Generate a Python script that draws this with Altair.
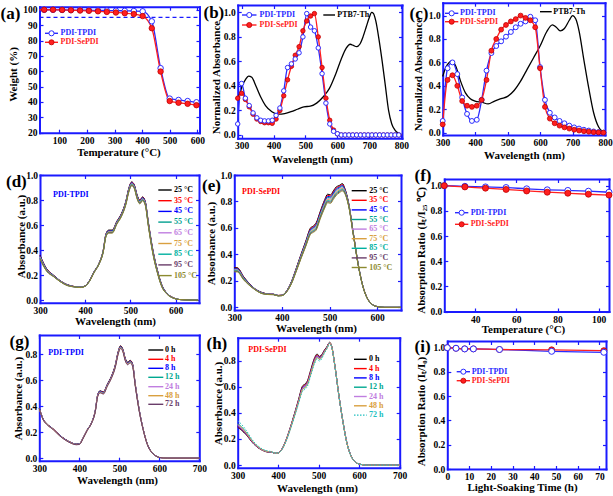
import altair as alt
import pandas as pd

W, H = 613, 496
FONT = "Liberation Serif"
FRAME = "#1a1aff"
TP_BLUE = "#2b2bff"
SE_RED = "#ff1f1f"
LS = 9.5
TS = 11

# ---------------- data ----------------
# (a) TGA
A_TEMP = [45, 77, 110, 142, 175, 207, 240, 272, 305, 337, 370, 402, 435, 467, 500, 532, 565, 597]
A_TPDI = [100.0, 100.0, 99.9, 99.8, 99.8, 99.7, 99.6, 99.5, 99.4, 99.3, 99.2, 99.0, 92.5, 62.0, 42.2, 41.3, 40.6, 39.8]
A_SEPDI = [100.0, 100.0, 99.9, 99.7, 99.5, 99.3, 99.0, 98.6, 98.2, 97.8, 97.2, 95.9, 88.0, 59.8, 40.6, 39.5, 38.8, 37.9]
A_START = 28
A_THRESH = 95

# (b) solution absorbance
B_WL = [288, 300, 312, 324, 336, 348, 360, 372, 384, 396, 408, 420, 432, 444, 456, 468, 480, 492, 504, 516,
        528, 540, 552, 564, 576, 588, 600, 612, 624, 636, 648, 660, 672, 684, 696, 708, 720, 732, 744, 756,
        768, 780, 792]
B_TPDI = [0.09, 0.42, 0.30, 0.24, 0.18, 0.14, 0.12, 0.115, 0.115, 0.12, 0.16, 0.22, 0.36, 0.55, 0.58, 0.62,
          0.67, 0.80, 0.99, 0.88, 0.85, 0.71, 0.50, 0.26, 0.09, 0.03, 0.01, 0.0, 0.0, 0.0, 0.0, 0.0, 0.0, 0.0,
          0.0, 0.0, 0.0, 0.0, 0.0, 0.0, 0.0, 0.0, 0.0]
B_SEPDI = [0.30, 0.34, 0.29, 0.23, 0.17, 0.13, 0.11, 0.10, 0.10, 0.095, 0.13, 0.20, 0.32, 0.45, 0.56, 0.65,
           0.72, 0.85, 0.93, 0.97, 0.99, 0.80, 0.55, 0.30, 0.12, 0.04, 0.01, 0.0, 0.0, 0.0, 0.0, 0.0, 0.0, 0.0,
           0.0, 0.0, 0.0, 0.0, 0.0, 0.0, 0.0, 0.0, 0.0]
B_PTB_WL = [288, 295, 302, 312, 322, 332, 345, 360, 375, 395, 415, 435, 455, 475, 495, 515, 535, 555, 575,
            595, 612, 628, 640, 650, 660, 670, 680, 690, 700, 707, 713, 720, 730, 740, 750, 760, 770, 780, 790, 800]
B_PTB = [0.30, 0.34, 0.40, 0.45, 0.48, 0.47, 0.40, 0.31, 0.24, 0.19, 0.17, 0.175, 0.19, 0.21, 0.23, 0.235,
         0.26, 0.31, 0.38, 0.50, 0.62, 0.71, 0.74, 0.73, 0.72, 0.74, 0.80, 0.88, 0.96, 1.0, 0.99, 0.93, 0.78,
         0.60, 0.40, 0.20, 0.09, 0.04, 0.015, 0.005]

# (c) film absorbance
C_WL = [300, 315, 330, 345, 360, 375, 390, 405, 420, 435, 450, 465, 480, 495, 510, 525, 540, 555, 570, 585,
        600, 615, 630, 645, 660, 675, 690, 705, 720, 735, 750, 765, 780, 795]
C_TPDI = [0.10, 0.55, 0.60, 0.50, 0.30, 0.16, 0.10, 0.11, 0.28, 0.53, 0.68, 0.74, 0.78, 0.82, 0.86, 0.90,
          0.93, 0.95, 0.99, 0.96, 0.56, 0.28, 0.17, 0.13, 0.10, 0.08, 0.06, 0.045, 0.035, 0.025, 0.018, 0.01,
          0.005, 0.0]
C_SEPDI = [0.07, 0.45, 0.49, 0.40, 0.27, 0.23, 0.22, 0.23, 0.28, 0.45, 0.70, 0.80, 0.88, 0.92, 0.95, 0.97,
           1.0, 0.98, 0.96, 0.90, 0.55, 0.22, 0.12, 0.08, 0.06, 0.045, 0.035, 0.025, 0.018, 0.012, 0.008,
           0.004, 0.002, 0.0]
C_PTB_WL = [300, 310, 320, 328, 340, 355, 370, 385, 400, 420, 440, 460, 480, 500, 520, 540, 560, 580, 600,
            620, 638, 650, 662, 675, 690, 700, 710, 720, 735, 750, 765, 780, 790, 800]
C_PTB = [0.48, 0.56, 0.60, 0.61, 0.57, 0.44, 0.34, 0.29, 0.27, 0.26, 0.245, 0.27, 0.29, 0.31, 0.36, 0.44,
         0.54, 0.64, 0.74, 0.86, 0.92, 0.90, 0.87, 0.89, 0.96, 1.0, 0.97, 0.87, 0.62, 0.38, 0.17, 0.05, 0.015,
         0.005]

# (d) PDI-TPDI film vs temperature
TEMPS = ["25 °C", "35 °C", "45 °C", "55 °C", "65 °C", "75 °C", "85 °C", "95 °C", "105 °C"]
TEMP_COLORS = ["#000000", "#ff0000", "#0000ff", "#009f8f", "#c07ee0", "#d9a040", "#00b0a0", "#6a3d6a", "#8c8a30"]
D_WL = [300, 315, 330, 345, 360, 375, 390, 400, 410, 420, 430, 440, 446, 452, 460, 470, 480, 490, 497, 503,
        509, 515, 521, 527, 533, 540, 550, 560, 570, 580, 595, 610, 650]
D_25 = [0.360, 0.250, 0.200, 0.155, 0.125, 0.110, 0.105, 0.115, 0.160, 0.230, 0.290, 0.400, 0.530, 0.560, 0.560, 0.630, 0.690, 0.790, 0.900, 0.945, 0.920, 0.840, 0.800, 0.825, 0.790, 0.620, 0.400, 0.240, 0.120, 0.060, 0.020, 0.005, 0.000]
D_35 = [0.356, 0.247, 0.198, 0.154, 0.124, 0.110, 0.105, 0.115, 0.160, 0.229, 0.289, 0.398, 0.527, 0.557, 0.557, 0.627, 0.687, 0.787, 0.897, 0.942, 0.917, 0.837, 0.797, 0.822, 0.787, 0.616, 0.396, 0.237, 0.118, 0.059, 0.020, 0.005, 0.000]
D_45 = [0.352, 0.245, 0.197, 0.153, 0.123, 0.109, 0.104, 0.114, 0.159, 0.228, 0.288, 0.396, 0.524, 0.554, 0.554, 0.624, 0.684, 0.783, 0.893, 0.938, 0.913, 0.833, 0.793, 0.818, 0.783, 0.612, 0.392, 0.234, 0.116, 0.058, 0.019, 0.005, 0.000]
D_55 = [0.348, 0.242, 0.195, 0.152, 0.122, 0.109, 0.104, 0.114, 0.158, 0.227, 0.287, 0.394, 0.521, 0.551, 0.551, 0.621, 0.681, 0.780, 0.889, 0.934, 0.909, 0.829, 0.789, 0.814, 0.779, 0.608, 0.388, 0.231, 0.114, 0.057, 0.019, 0.005, 0.000]
D_65 = [0.344, 0.240, 0.194, 0.151, 0.121, 0.108, 0.103, 0.113, 0.157, 0.226, 0.286, 0.392, 0.518, 0.548, 0.548, 0.618, 0.678, 0.776, 0.885, 0.930, 0.905, 0.825, 0.785, 0.810, 0.775, 0.604, 0.384, 0.228, 0.112, 0.056, 0.018, 0.005, 0.000]
D_75 = [0.340, 0.237, 0.192, 0.150, 0.120, 0.108, 0.103, 0.113, 0.156, 0.225, 0.285, 0.390, 0.515, 0.545, 0.545, 0.615, 0.675, 0.773, 0.881, 0.926, 0.901, 0.821, 0.781, 0.806, 0.771, 0.600, 0.380, 0.225, 0.110, 0.055, 0.018, 0.005, 0.000]
D_85 = [0.336, 0.235, 0.191, 0.149, 0.119, 0.107, 0.102, 0.112, 0.155, 0.224, 0.284, 0.388, 0.512, 0.542, 0.542, 0.612, 0.672, 0.769, 0.877, 0.922, 0.897, 0.817, 0.777, 0.802, 0.767, 0.596, 0.376, 0.222, 0.108, 0.054, 0.017, 0.005, 0.000]
D_95 = [0.332, 0.232, 0.189, 0.148, 0.118, 0.107, 0.102, 0.112, 0.154, 0.223, 0.283, 0.386, 0.509, 0.539, 0.539, 0.609, 0.669, 0.766, 0.873, 0.918, 0.893, 0.813, 0.773, 0.798, 0.763, 0.592, 0.372, 0.219, 0.106, 0.053, 0.017, 0.005, 0.000]
D_105 = [0.328, 0.230, 0.188, 0.147, 0.117, 0.106, 0.101, 0.111, 0.153, 0.222, 0.282, 0.384, 0.506, 0.536, 0.536, 0.606, 0.666, 0.762, 0.869, 0.914, 0.889, 0.809, 0.769, 0.794, 0.759, 0.588, 0.368, 0.216, 0.104, 0.052, 0.016, 0.005, 0.000]

# (e) PDI-SePDI film vs temperature
E_WL = [300, 306, 320, 340, 360, 375, 382, 392, 400, 410, 420, 430, 440, 450, 460, 466, 472, 480, 490, 496,
        502, 508, 514, 520, 527, 532, 540, 550, 560, 570, 580, 590, 600, 615, 650]
E_25 = [0.300, 0.300, 0.230, 0.150, 0.110, 0.100, 0.100, 0.090, 0.092, 0.125, 0.195, 0.295, 0.400, 0.500, 0.600, 0.615, 0.640, 0.720, 0.815, 0.855, 0.850, 0.880, 0.910, 0.920, 0.935, 0.900, 0.790, 0.560, 0.330, 0.160, 0.065, 0.022, 0.006, 0.000, 0.000]
E_35 = [0.296, 0.296, 0.227, 0.149, 0.109, 0.100, 0.099, 0.090, 0.092, 0.124, 0.193, 0.292, 0.396, 0.495, 0.594, 0.609, 0.633, 0.713, 0.807, 0.847, 0.842, 0.872, 0.902, 0.913, 0.928, 0.895, 0.787, 0.558, 0.329, 0.160, 0.065, 0.022, 0.006, 0.000, 0.000]
E_45 = [0.292, 0.292, 0.224, 0.148, 0.108, 0.099, 0.099, 0.089, 0.091, 0.123, 0.191, 0.289, 0.392, 0.490, 0.588, 0.603, 0.626, 0.706, 0.799, 0.839, 0.834, 0.864, 0.894, 0.906, 0.921, 0.890, 0.784, 0.556, 0.328, 0.159, 0.064, 0.022, 0.006, 0.000, 0.000]
E_55 = [0.288, 0.288, 0.221, 0.147, 0.107, 0.099, 0.098, 0.089, 0.091, 0.122, 0.189, 0.286, 0.388, 0.485, 0.582, 0.597, 0.619, 0.699, 0.791, 0.831, 0.826, 0.856, 0.886, 0.899, 0.914, 0.885, 0.781, 0.554, 0.327, 0.159, 0.064, 0.021, 0.006, 0.000, 0.000]
E_65 = [0.284, 0.284, 0.218, 0.146, 0.106, 0.098, 0.098, 0.088, 0.090, 0.121, 0.187, 0.283, 0.384, 0.480, 0.576, 0.591, 0.612, 0.692, 0.783, 0.823, 0.818, 0.848, 0.878, 0.892, 0.907, 0.880, 0.778, 0.552, 0.326, 0.158, 0.063, 0.021, 0.006, 0.000, 0.000]
E_75 = [0.280, 0.280, 0.215, 0.145, 0.105, 0.098, 0.097, 0.088, 0.090, 0.120, 0.185, 0.280, 0.380, 0.475, 0.570, 0.585, 0.605, 0.685, 0.775, 0.815, 0.810, 0.840, 0.870, 0.885, 0.900, 0.875, 0.775, 0.550, 0.325, 0.158, 0.063, 0.021, 0.006, 0.000, 0.000]
E_85 = [0.276, 0.276, 0.212, 0.144, 0.104, 0.097, 0.097, 0.087, 0.089, 0.119, 0.183, 0.277, 0.376, 0.470, 0.564, 0.579, 0.598, 0.678, 0.767, 0.807, 0.802, 0.832, 0.862, 0.878, 0.893, 0.870, 0.772, 0.548, 0.324, 0.157, 0.062, 0.020, 0.006, 0.000, 0.000]
E_95 = [0.272, 0.272, 0.209, 0.143, 0.103, 0.097, 0.096, 0.087, 0.089, 0.118, 0.181, 0.274, 0.372, 0.465, 0.558, 0.573, 0.591, 0.671, 0.759, 0.799, 0.794, 0.824, 0.854, 0.871, 0.886, 0.865, 0.769, 0.546, 0.323, 0.157, 0.062, 0.020, 0.006, 0.000, 0.000]
E_105 = [0.268, 0.268, 0.206, 0.142, 0.102, 0.096, 0.096, 0.086, 0.088, 0.117, 0.179, 0.271, 0.368, 0.460, 0.552, 0.567, 0.584, 0.664, 0.751, 0.791, 0.786, 0.816, 0.846, 0.864, 0.879, 0.860, 0.766, 0.544, 0.322, 0.156, 0.061, 0.020, 0.006, 0.000, 0.000]

# (f) absorption ratio vs temperature
F_TEMP = [25, 35, 45, 55, 65, 75, 85, 95, 105]
F_TPDI = [1.0, 0.995, 0.99, 0.985, 0.975, 0.967, 0.962, 0.956, 0.948]
F_SEPDI = [1.0, 0.99, 0.98, 0.97, 0.958, 0.948, 0.94, 0.932, 0.925]

# (g) PDI-TPDI film vs light soaking
TIMES = ["0 h", "4 h", "8 h", "12 h", "24 h", "48 h", "72 h"]
TIME_COLORS_G = ["#000000", "#ff0000", "#0000ff", "#00a890", "#c07ee0", "#d9a040", "#6a3d6a"]
TIME_COLORS_H = ["#000000", "#ff0000", "#0000ff", "#00a890", "#c07ee0", "#d9a040", "#20c0c0"]
G_WL = [300, 310, 320, 335, 350, 365, 380, 392, 400, 410, 420, 430, 440, 446, 452, 460, 470, 480, 490, 497,
        503, 509, 515, 521, 527, 533, 540, 550, 560, 570, 580, 590, 600, 620, 700]
G_0 = [0.385, 0.300, 0.262, 0.225, 0.180, 0.145, 0.120, 0.108, 0.110, 0.160, 0.220, 0.270, 0.370, 0.490, 0.520, 0.510, 0.570, 0.630, 0.720, 0.820, 0.867, 0.840, 0.770, 0.740, 0.755, 0.730, 0.570, 0.370, 0.220, 0.110, 0.050, 0.020, 0.005, 0.000, 0.000]
G_4 = [0.384, 0.299, 0.261, 0.224, 0.179, 0.144, 0.119, 0.107, 0.109, 0.159, 0.219, 0.269, 0.368, 0.487, 0.517, 0.507, 0.567, 0.627, 0.716, 0.816, 0.863, 0.836, 0.766, 0.736, 0.751, 0.726, 0.567, 0.368, 0.219, 0.109, 0.050, 0.020, 0.005, 0.000, 0.000]
G_8 = [0.383, 0.298, 0.260, 0.223, 0.178, 0.143, 0.118, 0.106, 0.108, 0.158, 0.218, 0.268, 0.366, 0.485, 0.515, 0.505, 0.565, 0.625, 0.713, 0.813, 0.860, 0.833, 0.763, 0.733, 0.748, 0.723, 0.565, 0.366, 0.218, 0.108, 0.049, 0.020, 0.005, 0.000, 0.000]
G_12 = [0.382, 0.297, 0.259, 0.222, 0.177, 0.142, 0.117, 0.106, 0.108, 0.157, 0.217, 0.267, 0.364, 0.482, 0.512, 0.502, 0.562, 0.622, 0.710, 0.810, 0.857, 0.830, 0.760, 0.730, 0.745, 0.720, 0.562, 0.364, 0.217, 0.108, 0.049, 0.019, 0.005, 0.000, 0.000]
G_24 = [0.381, 0.296, 0.258, 0.221, 0.176, 0.141, 0.116, 0.105, 0.107, 0.156, 0.216, 0.266, 0.362, 0.480, 0.510, 0.500, 0.560, 0.620, 0.707, 0.807, 0.854, 0.827, 0.757, 0.727, 0.742, 0.717, 0.560, 0.362, 0.216, 0.107, 0.048, 0.019, 0.005, 0.000, 0.000]
G_48 = [0.380, 0.295, 0.257, 0.220, 0.175, 0.140, 0.115, 0.104, 0.106, 0.155, 0.215, 0.265, 0.360, 0.477, 0.507, 0.497, 0.557, 0.617, 0.704, 0.804, 0.851, 0.824, 0.754, 0.724, 0.739, 0.714, 0.557, 0.360, 0.215, 0.106, 0.048, 0.019, 0.005, 0.000, 0.000]
G_72 = [0.379, 0.294, 0.256, 0.219, 0.174, 0.139, 0.114, 0.103, 0.105, 0.154, 0.214, 0.264, 0.358, 0.474, 0.504, 0.494, 0.554, 0.614, 0.700, 0.800, 0.846, 0.820, 0.750, 0.720, 0.735, 0.710, 0.554, 0.358, 0.214, 0.105, 0.047, 0.019, 0.005, 0.000, 0.000]

# (h) PDI-SePDI film vs light soaking
H_WL = [300, 310, 320, 340, 360, 375, 382, 392, 400, 410, 420, 430, 440, 450, 460, 466, 472, 480, 490, 496,
        502, 508, 514, 520, 527, 532, 540, 550, 560, 570, 580, 590, 600, 620, 700]
H_0 = [0.290, 0.265, 0.235, 0.160, 0.115, 0.100, 0.100, 0.090, 0.092, 0.128, 0.198, 0.290, 0.392, 0.500, 0.605, 0.620, 0.645, 0.725, 0.822, 0.850, 0.832, 0.848, 0.880, 0.905, 0.940, 0.910, 0.760, 0.530, 0.330, 0.165, 0.070, 0.025, 0.008, 0.000, 0.000]
H_4 = [0.295, 0.270, 0.239, 0.162, 0.116, 0.101, 0.100, 0.090, 0.092, 0.127, 0.196, 0.287, 0.388, 0.494, 0.598, 0.613, 0.637, 0.717, 0.814, 0.843, 0.826, 0.843, 0.876, 0.902, 0.938, 0.909, 0.760, 0.530, 0.330, 0.165, 0.070, 0.025, 0.008, 0.000, 0.000]
H_8 = [0.300, 0.275, 0.243, 0.164, 0.117, 0.102, 0.101, 0.090, 0.092, 0.126, 0.194, 0.284, 0.384, 0.488, 0.591, 0.606, 0.629, 0.709, 0.806, 0.836, 0.820, 0.838, 0.872, 0.899, 0.936, 0.908, 0.759, 0.529, 0.330, 0.165, 0.070, 0.025, 0.008, 0.000, 0.000]
H_12 = [0.318, 0.292, 0.255, 0.170, 0.120, 0.104, 0.102, 0.091, 0.092, 0.124, 0.190, 0.278, 0.376, 0.478, 0.578, 0.593, 0.615, 0.695, 0.792, 0.823, 0.808, 0.828, 0.864, 0.893, 0.934, 0.906, 0.758, 0.529, 0.329, 0.164, 0.069, 0.025, 0.008, 0.000, 0.000]
H_24 = [0.305, 0.280, 0.247, 0.166, 0.118, 0.103, 0.101, 0.090, 0.092, 0.125, 0.192, 0.281, 0.380, 0.483, 0.584, 0.599, 0.622, 0.702, 0.799, 0.830, 0.814, 0.833, 0.868, 0.896, 0.935, 0.907, 0.759, 0.529, 0.330, 0.165, 0.070, 0.025, 0.008, 0.000, 0.000]
H_48 = [0.310, 0.285, 0.250, 0.168, 0.119, 0.103, 0.102, 0.091, 0.092, 0.124, 0.191, 0.279, 0.378, 0.480, 0.580, 0.595, 0.618, 0.698, 0.795, 0.826, 0.811, 0.830, 0.866, 0.894, 0.934, 0.906, 0.758, 0.529, 0.329, 0.164, 0.069, 0.025, 0.008, 0.000, 0.000]
H_72 = [0.340, 0.310, 0.270, 0.178, 0.125, 0.107, 0.104, 0.092, 0.093, 0.122, 0.186, 0.272, 0.368, 0.468, 0.565, 0.580, 0.602, 0.682, 0.778, 0.810, 0.796, 0.818, 0.856, 0.887, 0.930, 0.903, 0.757, 0.528, 0.328, 0.164, 0.069, 0.025, 0.008, 0.000, 0.000]

# (i) absorption ratio vs light soaking time
I_TIME = [0, 4, 8, 12, 24, 48, 72]
I_TPDI = [1.0, 0.995, 0.99, 0.99, 0.985, 0.97, 0.962]
I_SEPDI = [1.0, 0.995, 0.99, 0.99, 0.985, 0.982, 0.975]

# ---------------- layout (pixel frames) ----------------
Y10 = [0.0, 0.2, 0.4, 0.6, 0.8, 1.0]
Y08 = [0.0, 0.2, 0.4, 0.6, 0.8]
WL38 = [300, 400, 500, 600, 700, 800]
PAN = {
    "a": dict(xd=[28, 608], yd=[20, 102], xr=[39.5, 199.5], yr=[6.7, 132.7], xt=[100, 200, 300, 400, 500, 600],
              yt=[20, 30, 40, 50, 60, 70, 80, 90, 100], yf="d", xtitle="Temperature (°C)", ytitle="Weight (%)",
              xtc=118.5, xty=20, ytx=-26, ytc=74),
    "b": dict(xd=[288, 802], yd=[-0.027, 1.06], xr=[237.7, 402], yr=[5, 138.3], xt=WL38, yt=Y10, yf=".1f",
              xtitle="Wavelength (nm)", ytitle="Normalized Absorbance", xtc=312, xty=21, ytx=-21.5, ytc=77),
    "c": dict(xd=[300, 800], yd=[-0.02, 1.11], xr=[442.7, 605], yr=[2.7, 135], xt=WL38, yt=Y10, yf=".1f",
              xtitle="Wavelength (nm)", ytitle="Normalized Absorbance", xtc=524, xty=20, ytx=-24, ytc=74),
    "d": dict(xd=[300, 652], yd=[-0.02, 1.0], xr=[40, 199], yr=[175, 302.7], xt=[300, 400, 500, 600], yt=Y10,
              yf=".1f", xtitle="Wavelength (nm)", ytitle="Absorbance (a.u.)", xtc=115, xty=19, ytx=-18.5,
              ytc=236),
    "e": dict(xd=[300, 650], yd=[-0.02, 1.0], xr=[234.3, 401], yr=[175, 310], xt=[300, 400, 500, 600], yt=Y10,
              yf=".1f", xtitle="Wavelength (nm)", ytitle="Absorbance (a.u.)", xtc=316, xty=18.5, ytx=-22.5,
              ytc=243),
    "f": dict(xd=[25, 105], yd=[0, 1.053], xr=[444.3, 609], yr=[179, 311.5], xt=[40, 60, 80, 100], yt=Y10,
              yf=".1f", xtitle="Temperature (°C)", ytitle="Absorption Ratio (Iₜ/I₂₅ ℃)", xtc=523, xty=18,
              ytx=-22.5, ytc=250),
    "g": dict(xd=[300, 700], yd=[-0.02, 0.95], xr=[39.3, 199.3], yr=[335, 460.7], xt=[300, 400, 500, 600, 700],
              yt=Y08, yf=".1f", xtitle="Wavelength (nm)", ytitle="Absorbance (a.u.)", xtc=117, xty=19.5, ytx=-21,
              ytc=398),
    "h": dict(xd=[300, 700], yd=[-0.02, 0.975], xr=[237.7, 399.7], yr=[337.7, 467.7],
              xt=[300, 400, 500, 600, 700], yt=Y08, yf=".1f", xtitle="Wavelength (nm)",
              ytitle="Absorbance (a.u.)", xtc=317, xty=20.5, ytx=-19.5, ytc=403),
    "i": dict(xd=[0, 73], yd=[0, 1.055], xr=[447.3, 606], yr=[341, 469], xt=[0, 10, 20, 30, 40, 50, 60, 70],
              yt=Y10, yf=".1f", xtitle="Light-Soaking Time (h)", ytitle="Absorption Ratio (Iₜ/I₀)", xtc=522,
              xty=18.5, ytx=-25.5, ytc=411),
}


def scales(p):
    sx = alt.Scale(domain=p["xd"], range=p["xr"], nice=False, zero=False)
    sy = alt.Scale(domain=p["yd"], range=[p["yr"][1], p["yr"][0]], nice=False, zero=False)
    return sx, sy


def XE(p, field="x"):
    return alt.X(f"{field}:Q", scale=scales(p)[0], axis=None)


def YE(p, field="y"):
    return alt.Y(f"{field}:Q", scale=scales(p)[1], axis=None)


def axis_layers(p):
    sx, sy = scales(p)
    x0, x1 = p["xr"]
    ytop, ybot = p["yr"]
    df = pd.DataFrame({"x": [p["xd"][0]], "y": [p["yd"][0]]})
    base = alt.Chart(df).mark_point(opacity=0)
    lab = dict(labelFont=FONT, labelFontSize=LS, labelFontWeight="bold", labelColor="black", labelFlush=False,
               labelOverlap=False, labelPadding=2.5, ticks=False, tickSize=0, domain=True, domainColor=FRAME,
               domainWidth=2, domainCap="square", grid=False, titleFont=FONT, titleFontSize=TS,
               titleFontWeight="bold", titleColor="black", titleAlign="center", titleBaseline="middle")
    tk = dict(ticks=True, tickSize=3.5, tickColor=FRAME, tickWidth=1.2, labels=False, grid=False, title=None)
    fr = dict(domain=True, domainColor=FRAME, domainWidth=2, domainCap="square")
    l1 = base.encode(
        x=alt.X("x:Q", scale=sx, axis=alt.Axis(orient="bottom", offset=ybot - H, values=p["xt"], format="d",
                                               title=p["xtitle"], titleX=p["xtc"], titleY=p["xty"], **lab)),
        y=alt.Y("y:Q", scale=sy, axis=alt.Axis(orient="left", offset=-x0, values=p["yt"], format=p["yf"],
                                               title=p["ytitle"], titleX=p["ytx"], titleY=p["ytc"],
                                               titleAngle=270, **lab)))
    l2 = base.encode(
        x=alt.X("x:Q", scale=sx, axis=alt.Axis(orient="top", offset=-ybot, values=p["xt"], domain=False, **tk)),
        y=alt.Y("y:Q", scale=sy, axis=alt.Axis(orient="right", offset=x0 - W, values=p["yt"], domain=False, **tk)))
    l3 = base.encode(
        x=alt.X("x:Q", scale=sx, axis=alt.Axis(orient="bottom", offset=ytop - H, values=p["xt"], **fr, **tk)),
        y=alt.Y("y:Q", scale=sy, axis=alt.Axis(orient="left", offset=-x1, values=p["yt"], **fr, **tk)))
    return [l1, l2, l3]


def long_df(xs, series):
    rows = []
    for k, (name, vals) in enumerate(series):
        for xv, yv in zip(xs, vals):
            rows.append({"x": xv, "y": yv, "s": name, "k": k})
    return pd.DataFrame(rows)


def inner(layers):
    return alt.layer(*layers).resolve_scale(x="shared", y="shared").resolve_axis(x="independent", y="independent")


def marker_layers(p, xs, tp, se, size, line_x=None, tp_line=None, se_line=None):
    dfm = long_df(xs, [("PDI-TPDI", tp), ("PDI-SePDI", se)])
    if line_x is None:
        dfl = dfm
    else:
        dfl = long_df(line_x, [("PDI-TPDI", tp_line), ("PDI-SePDI", se_line)])
    lines = alt.Chart(dfl).mark_line(strokeWidth=1.3, interpolate="monotone").encode(
        x=XE(p), y=YE(p), detail="s:N",
        color=alt.Color("s:N", scale=alt.Scale(domain=["PDI-TPDI", "PDI-SePDI"], range=[TP_BLUE, SE_RED]),
                        legend=None))
    red = alt.Chart(dfm[dfm.s == "PDI-SePDI"]).mark_point(
        shape="circle", filled=True, fill=SE_RED, stroke="#c00000", strokeWidth=0.8, size=size, opacity=1
    ).encode(x=XE(p), y=YE(p))
    blue = alt.Chart(dfm[dfm.s == "PDI-TPDI"]).mark_point(
        shape="circle", filled=True, fill="white", stroke=TP_BLUE, strokeWidth=1, size=size, opacity=1
    ).encode(x=XE(p), y=YE(p))
    return lines, red, blue


def multi_lines(p, xs, names, arrays, colors, dashes=None):
    df = long_df(xs, list(zip(names, arrays)))
    enc = dict(x=XE(p), y=YE(p), detail="s:N",
               color=alt.Color("s:N", scale=alt.Scale(domain=names, range=colors), legend=None))
    if dashes is not None:
        enc["strokeDash"] = alt.StrokeDash("s:N", scale=alt.Scale(domain=names, range=dashes), legend=None)
    return alt.Chart(df).mark_line(strokeWidth=1.0, interpolate="monotone").encode(**enc)


# ---- panel a
pa = PAN["a"]
la, ra, ba = marker_layers(pa, A_TEMP, A_TPDI, A_SEPDI, 30,
                           line_x=[A_START] + A_TEMP, tp_line=[100.0] + A_TPDI, se_line=[100.0] + A_SEPDI)
thr = alt.Chart(pd.DataFrame({"x": [pa["xd"][0]], "x2": [pa["xd"][1]], "y": [A_THRESH]})).mark_rule(
    color=FRAME, strokeDash=[4, 3], strokeWidth=1.2).encode(x=XE(pa), x2="x2:Q", y=YE(pa))
panel_a = inner(axis_layers(pa) + [thr, la, ba, ra])

# ---- panel b
pb = PAN["b"]
lb, rb, bb = marker_layers(pb, B_WL, B_TPDI, B_SEPDI, 20)
ptb_b = alt.Chart(pd.DataFrame({"x": B_PTB_WL, "y": B_PTB})).mark_line(
    color="black", strokeWidth=1.3, interpolate="monotone").encode(x=XE(pb), y=YE(pb))
panel_b = inner(axis_layers(pb) + [ptb_b, lb, rb, bb])

# ---- panel c
pc = PAN["c"]
lc, rc, bc = marker_layers(pc, C_WL, C_TPDI, C_SEPDI, 24)
ptb_c = alt.Chart(pd.DataFrame({"x": C_PTB_WL, "y": C_PTB})).mark_line(
    color="black", strokeWidth=1.3, interpolate="monotone").encode(x=XE(pc), y=YE(pc))
panel_c = inner(axis_layers(pc) + [ptb_c, lc, bc, rc])

# ---- panel d, e
pd_ = PAN["d"]
panel_d = inner(axis_layers(pd_) + [multi_lines(pd_, D_WL, TEMPS,
                                                [D_25, D_35, D_45, D_55, D_65, D_75, D_85, D_95, D_105],
                                                TEMP_COLORS)])
pe = PAN["e"]
panel_e = inner(axis_layers(pe) + [multi_lines(pe, E_WL, TEMPS,
                                               [E_25, E_35, E_45, E_55, E_65, E_75, E_85, E_95, E_105],
                                               TEMP_COLORS)])

# ---- panel f
pf = PAN["f"]
lf, rf, bf = marker_layers(pf, F_TEMP, F_TPDI, F_SEPDI, 36)
panel_f = inner(axis_layers(pf) + [lf, bf, rf])

# ---- panel g, h
pg = PAN["g"]
panel_g = inner(axis_layers(pg) + [multi_lines(pg, G_WL, TIMES, [G_0, G_4, G_8, G_12, G_24, G_48, G_72],
                                               TIME_COLORS_G)])
ph = PAN["h"]
panel_h = inner(axis_layers(ph) + [multi_lines(ph, H_WL, TIMES, [H_0, H_4, H_8, H_12, H_24, H_48, H_72],
                                               TIME_COLORS_H,
                                               dashes=[[1, 0], [1, 0], [1, 0], [1, 0], [1, 0], [1, 0], [1.5, 1.5]])])

# ---- panel i
pi = PAN["i"]
li, ri, bi = marker_layers(pi, I_TIME, I_TPDI, I_SEPDI, 36)
panel_i = inner(axis_layers(pi) + [li, ri, bi])

# ---------------- annotations (pixel positions) ----------------
PANEL_LABELS = pd.DataFrame({
    "t": ["(a)", "(b)", "(c)", "(d)", "(e)", "(f)", "(g)", "(h)", "(i)"],
    "px": [0.5, 203.5, 409.5, 6, 202, 414.5, 9.5, 206.5, 414.5],
    "py": [13.5, 12.5, 13.5, 181.5, 186, 175.5, 341.5, 343.5, 347],
})

leg_lines = []
leg_marks_tp = []
leg_marks_se = []
leg_text = []


def add_pair(x1, x2, ytp, yse, tx):
    leg_lines.append((x1, x2, ytp, TP_BLUE))
    leg_lines.append((x1, x2, yse, SE_RED))
    leg_marks_tp.append(((x1 + x2) / 2, ytp))
    leg_marks_se.append(((x1 + x2) / 2, yse))
    leg_text.append(("PDI-TPDI", tx, ytp, TP_BLUE))
    leg_text.append(("PDI-SePDI", tx, yse, SE_RED))


add_pair(45, 58, 33.3, 42.3, 60.5)
add_pair(242, 256.5, 15, 25, 259.5)
leg_lines.append((323.3, 335, 15, "black"))
leg_text.append(("PTB7-Th", 337.3, 15, "black"))
add_pair(445, 458.3, 13.3, 21.7, 460)
leg_lines.append((540, 551.7, 11.7, "black"))
leg_text.append(("PTB7-Th", 553.3, 11.7, "black"))
add_pair(455, 468.3, 212.7, 224.3, 470.7)
add_pair(456.7, 470, 371.7, 380.7, 471.7)

for k, (nm, col) in enumerate(zip(TEMPS, TEMP_COLORS)):
    yd_ = 190 + 10.7 * k
    leg_lines.append((158.3, 171.7, yd_, col))
    leg_text.append((nm, 174, yd_, col))
    ye_ = 190.7 + 9.6 * k
    leg_lines.append((351.7, 366.7, ye_, col))
    leg_text.append((nm, 369.3, ye_, col))

G_LEG_Y = [350, 359.3, 368.3, 377.3, 386.7, 395.7, 404.3]
for k, (nm, col) in enumerate(zip(TIMES, TIME_COLORS_G)):
    leg_lines.append((148.3, 163.3, G_LEG_Y[k], col))
    leg_text.append((nm, 165, G_LEG_Y[k], col))
H_LEG_Y = [359.3, 368.6, 377.9, 387.2, 396.5, 405.8, 415.1]
for k, (nm, col) in enumerate(zip(TIMES, TIME_COLORS_H)):
    if k < 6:
        leg_lines.append((354, 366.7, H_LEG_Y[k], col))
    leg_text.append((nm, 369, H_LEG_Y[k], col))

leg_text.append(("PDI-TPDI", 53, 195, "#0000ff"))
leg_text.append(("PDI-SePDI", 242, 191.7, "#ff0000"))
leg_text.append(("PDI-TPDI", 48.3, 353.3, "#0000ff"))
leg_text.append(("PDI-SePDI", 248.3, 350, "#ff0000"))

LL = pd.DataFrame(leg_lines, columns=["x1", "x2", "y", "c"])
LT = pd.DataFrame(leg_text, columns=["t", "x", "y", "c"])
LMT = pd.DataFrame(leg_marks_tp, columns=["x", "y"])
LMS = pd.DataFrame(leg_marks_se, columns=["x", "y"])


def PX(f):
    return alt.X(f"{f}:Q", scale=None, axis=None)


def PY(f):
    return alt.Y(f"{f}:Q", scale=None, axis=None)


ann_lines = alt.Chart(LL).mark_rule(strokeWidth=1.4).encode(
    x=PX("x1"), x2="x2:Q", y=PY("y"), color=alt.Color("c:N", scale=None))
ann_dot = alt.Chart(pd.DataFrame({"x1": [354], "x2": [366.7], "y": [H_LEG_Y[6]]})).mark_rule(
    strokeWidth=1.4, color=TIME_COLORS_H[6], strokeDash=[1.5, 1.5]).encode(x=PX("x1"), x2="x2:Q", y=PY("y"))
ann_mtp = alt.Chart(LMT).mark_point(shape="circle", filled=True, fill="white", stroke=TP_BLUE, strokeWidth=1,
                                    size=26, opacity=1).encode(x=PX("x"), y=PY("y"))
ann_mse = alt.Chart(LMS).mark_point(shape="circle", filled=True, fill=SE_RED, stroke="#c00000", strokeWidth=0.8,
                                    size=26, opacity=1).encode(x=PX("x"), y=PY("y"))
ann_text = alt.Chart(LT).mark_text(align="left", baseline="middle", font=FONT, fontSize=8,
                                   fontWeight="bold").encode(
    x=PX("x"), y=PY("y"), text="t:N", color=alt.Color("c:N", scale=None))
ann_labels = alt.Chart(PANEL_LABELS).mark_text(align="left", baseline="middle", font=FONT, fontSize=17,
                                               fontWeight="bold", color="black").encode(
    x=PX("px"), y=PY("py"), text="t:N")

chart = alt.layer(
    panel_a, panel_b, panel_c, panel_d, panel_e, panel_f, panel_g, panel_h, panel_i,
    ann_lines, ann_dot, ann_mtp, ann_mse, ann_text, ann_labels
).resolve_scale(
    x="independent", y="independent", color="independent", strokeDash="independent"
).properties(
    width=W, height=H, padding=0, autosize=alt.AutoSizeParams(type="none")
).configure_view(stroke=None)

chart.save("out.html", embed_options={"renderer": "svg", "actions": False})
